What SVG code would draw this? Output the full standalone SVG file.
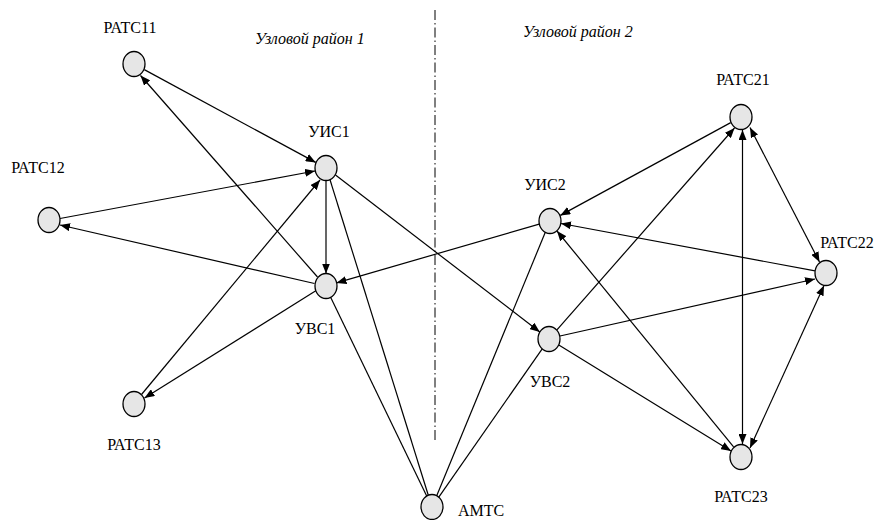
<svg xmlns="http://www.w3.org/2000/svg" width="878" height="520" viewBox="0 0 878 520">
<style>
.node{fill:#e6e6e6;stroke:#000;stroke-width:1.3}
.lbl{font-family:'Liberation Serif','Times New Roman',serif;font-size:16px;fill:#000;text-anchor:middle}
.zone{font-family:'Liberation Serif','Times New Roman',serif;font-size:16px;font-style:italic;fill:#000}
.e{stroke:#000;stroke-width:1.2;fill:none}
.a{marker-end:url(#arr)}
.b{marker-start:url(#arr);marker-end:url(#arr)}
</style>
<defs>
<marker id="arr" markerUnits="userSpaceOnUse" markerWidth="10" markerHeight="8" viewBox="0 0 10 8" refX="10" refY="4" orient="auto-start-reverse">
<path d="M0,0 L10,4 L0,8 z" fill="#000"/>
</marker>
</defs>
<rect width="878" height="520" fill="#fff"/>
<line x1="435" y1="10" x2="435" y2="442" stroke="#000" stroke-width="1" stroke-dasharray="10 3 1.5 3"/>
<text class="zone" x="255" y="44">Узловой район 1</text>
<text class="zone" x="523" y="37">Узловой район 2</text>
<g id="connectors">
<line class="e a" x1="144.3" y1="69.6" x2="315.7" y2="162.4"/>
<line class="e a" x1="60" y1="218.5" x2="315" y2="171"/>
<line class="e a" x1="314.5" y1="283.5" x2="60" y2="225"/>
<line class="e a" x1="317.5" y1="277" x2="140.5" y2="75.5"/>
<line class="e a" x1="141.5" y1="394.5" x2="320" y2="180"/>
<line class="e a" x1="317" y1="290" x2="144.5" y2="398"/>
<line class="e a" x1="326" y1="180.5" x2="326" y2="273.5"/>
<line class="e" x1="330" y1="179.8" x2="428.3" y2="495.2"/>
<line class="e" x1="330.5" y1="297" x2="426.7" y2="496"/>
<line class="e a" x1="335.5" y1="175.1" x2="539.8" y2="331.9"/>
<line class="e a" x1="539.2" y1="224.1" x2="336.5" y2="282.9"/>
<line class="e" x1="545.3" y1="232.3" x2="436.7" y2="495.7"/>
<line class="e" x1="542.2" y1="348.8" x2="438.8" y2="497.2"/>
<line class="e a" x1="730.7" y1="122.6" x2="560.3" y2="215.4"/>
<line class="e a" x1="815.1" y1="270.9" x2="561" y2="223.5"/>
<line class="e a" x1="733.6" y1="446.8" x2="557" y2="231"/>
<line class="e a" x1="556.7" y1="330.1" x2="734.5" y2="128"/>
<line class="e b" x1="742.5" y1="130" x2="742.5" y2="444"/>
<line class="e b" x1="750" y1="127.5" x2="819.5" y2="262"/>
<line class="e b" x1="824" y1="285.5" x2="750" y2="448"/>
<line class="e a" x1="560" y1="336" x2="815" y2="279"/>
<line class="e a" x1="558.8" y1="345" x2="731" y2="451"/>
</g>
<g id="PATC11"><ellipse class="node" cx="134" cy="64" rx="11" ry="12.5"/><text class="lbl" x="130" y="33">РАТС11</text></g>
<g id="PATC12"><ellipse class="node" cx="49" cy="220" rx="11" ry="12.5"/><text class="lbl" x="38" y="173">РАТС12</text></g>
<g id="PATC13"><ellipse class="node" cx="134" cy="404" rx="11" ry="12.5"/><text class="lbl" x="134" y="450">РАТС13</text></g>
<g id="UIS1"><ellipse class="node" cx="326" cy="168" rx="11" ry="12.5"/><text class="lbl" x="329" y="137">УИС1</text></g>
<g id="UVS1"><ellipse class="node" cx="326" cy="286" rx="11" ry="12.5"/><text class="lbl" x="315" y="334">УВС1</text></g>
<g id="AMTS"><ellipse class="node" cx="432" cy="507" rx="11" ry="12.5"/><text class="lbl" x="458" y="516" style="text-anchor:start">АМТС</text></g>
<g id="UIS2"><ellipse class="node" cx="550" cy="221" rx="11" ry="12.5"/><text class="lbl" x="545" y="190">УИС2</text></g>
<g id="UVS2"><ellipse class="node" cx="549" cy="339" rx="11" ry="12.5"/><text class="lbl" x="550" y="387">УВС2</text></g>
<g id="PATC21"><ellipse class="node" cx="741" cy="117" rx="11" ry="12.5"/><text class="lbl" x="743" y="85">РАТС21</text></g>
<g id="PATC22"><ellipse class="node" cx="826" cy="273" rx="11" ry="12.5"/><text class="lbl" x="847" y="248">РАТС22</text></g>
<g id="PATC23"><ellipse class="node" cx="741" cy="457" rx="11" ry="12.5"/><text class="lbl" x="741" y="502">РАТС23</text></g>
</svg>
